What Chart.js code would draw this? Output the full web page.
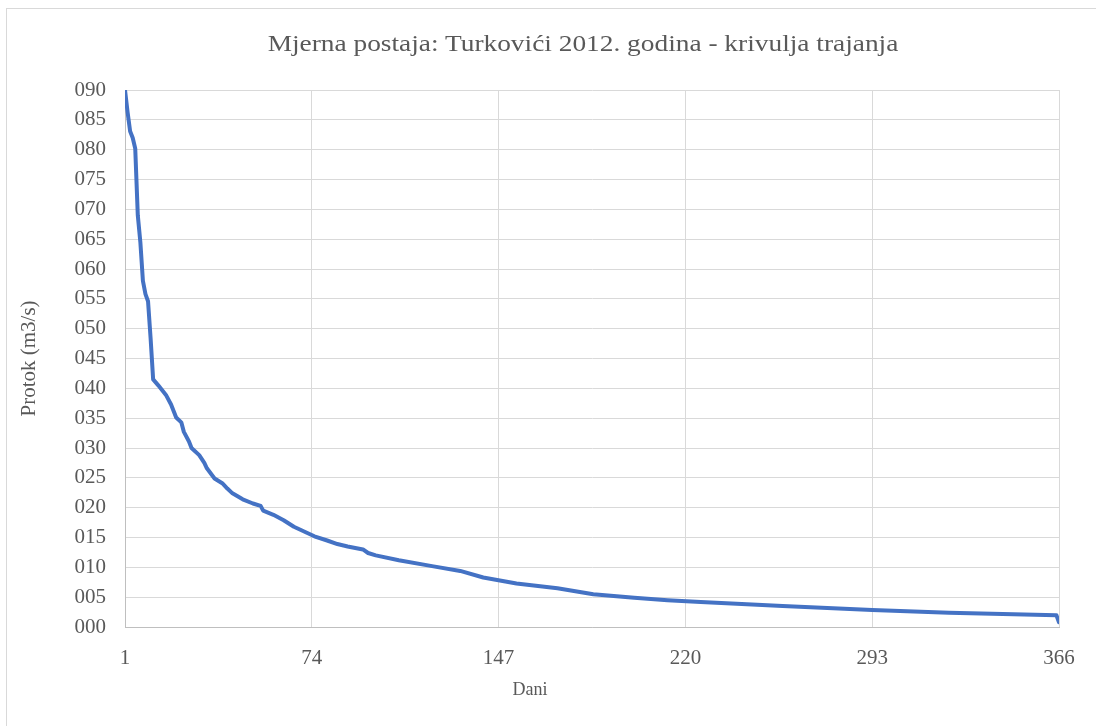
<!DOCTYPE html>
<html lang="hr">
<head>
<meta charset="utf-8">
<title>Turkovići 2012 - krivulja trajanja</title>
<script src="https://cdn.jsdelivr.net/npm/chart.js@4.4.1/dist/chart.umd.min.js"></script>
<style>
    html, body {
        margin: 0;
        padding: 0;
        background: #ffffff;
        overflow: hidden;
    }
    .chart-wrap {
        position: relative;
        width: 1096px;
        height: 726px;
        font-family: "Liberation Serif", "DejaVu Serif", serif;
        color: #595959;
    }
    .chart-frame {
        position: absolute;
        left: 6px;
        top: 8px;
        width: 1100px;
        height: 730px;
        border: 1px solid #d9d9d9;
        box-sizing: border-box;
    }
    .chart-title {
        position: absolute;
        left: 583px;
        top: 28px;
        transform: translateX(-50%) scaleX(1.14);
        font-size: 24px;
        line-height: 30px;
        white-space: nowrap;
    }
    .axis-title-x {
        position: absolute;
        left: 530px;
        top: 678px;
        transform: translateX(-50%);
        font-size: 18px;
        line-height: 22px;
    }
    .chart-canvas {
        position: absolute;
        left: 0;
        top: 0;
        width: 1096px;
        height: 726px;
    }
</style>
</head>
<body>
<div class="chart-wrap">
    <div class="chart-frame"></div>
    <div class="chart-canvas"><canvas id="durationChart"></canvas></div>
    <div class="chart-title">Mjerna postaja: Turkovići 2012. godina - krivulja trajanja</div>
    <div class="axis-title-x">Dani</div>
</div>

<script>
// Krivulja trajanja protoka - dan u godini i protok (m3/s)
const dani = [1, 2, 3, 4, 5, 6, 7, 8, 9, 10, 11, 12, 13, 14, 17, 19, 20, 21, 23, 24,
    26, 27, 30, 32, 33, 36, 39, 41, 43, 47, 51, 54, 55, 59, 63, 67, 71, 75, 80, 84,
    88, 94, 96, 99, 108, 121, 132, 141, 154, 170, 184, 200, 213, 226, 258, 293, 323, 365, 366];
const protok = [0.900, 0.863, 0.831, 0.820, 0.802, 0.690, 0.645, 0.580, 0.558, 0.546, 0.484, 0.415, 0.410, 0.405, 0.389, 0.373, 0.362, 0.351, 0.343, 0.327,
    0.311, 0.300, 0.288, 0.275, 0.266, 0.249, 0.241, 0.232, 0.224, 0.214, 0.207, 0.203, 0.195, 0.188, 0.179, 0.168, 0.160, 0.152, 0.145, 0.139,
    0.135, 0.130, 0.124, 0.120, 0.112, 0.102, 0.094, 0.083, 0.073, 0.065, 0.055, 0.049, 0.045, 0.042, 0.035, 0.0285, 0.024, 0.0196, 0.008];

// Oznake na osima
const xOznake = [1, 74, 147, 220, 293, 366];
const yMax = 0.9;
const yKorak = 0.05;

const tekstBoja = '#595959';
const mrezaBoja = '#d9d9d9';
const font = '"Liberation Serif", "DejaVu Serif", serif';

document.addEventListener('DOMContentLoaded', function() {
    initDurationChart();
});

function initDurationChart() {
    const ctx = document.getElementById('durationChart');
    if (!ctx) return;

    const points = dani.map(function(d, i) {
        return { x: d, y: protok[i] };
    });

    new Chart(ctx, {
        type: 'line',
        data: {
            datasets: [{
                label: 'Protok',
                data: points,
                borderColor: '#4472c4',
                borderWidth: 4,
                borderJoinStyle: 'round',
                borderCapStyle: 'round',
                pointRadius: 0,
                tension: 0,
                fill: false
            }]
        },
        options: {
            responsive: true,
            maintainAspectRatio: false,
            animation: false,
            layout: {
                padding: { left: 17, right: 37, top: 90, bottom: 0 }
            },
            plugins: {
                legend: { display: false },
                tooltip: { enabled: false },
                title: { display: false }
            },
            scales: {
                x: {
                    type: 'linear',
                    min: 1,
                    max: 366,
                    afterBuildTicks: function(scale) {
                        scale.ticks = xOznake.map(function(v) { return { value: v }; });
                    },
                    afterFit: function(scale) {
                        scale.height = 99;
                    },
                    ticks: {
                        color: tekstBoja,
                        font: { family: font, size: 21 },
                        padding: 19,
                        maxRotation: 0,
                        autoSkip: false
                    },
                    grid: {
                        color: mrezaBoja,
                        lineWidth: 1,
                        drawTicks: false
                    },
                    border: {
                        color: '#bfbfbf',
                        width: 1
                    }
                },
                y: {
                    min: 0,
                    max: yMax,
                    afterFit: function(scale) {
                        scale.width = 125 - 17;
                    },
                    ticks: {
                        stepSize: yKorak,
                        color: tekstBoja,
                        font: { family: font, size: 21 },
                        padding: 19,
                        callback: function(value) {
                            return String(Math.round(value * 100)).padStart(3, '0');
                        }
                    },
                    grid: {
                        color: mrezaBoja,
                        lineWidth: 1,
                        drawTicks: false
                    },
                    border: {
                        color: '#bfbfbf',
                        width: 1
                    },
                    title: {
                        display: true,
                        text: 'Protok (m3/s)',
                        color: tekstBoja,
                        font: { family: font, size: 21 },
                        padding: 0
                    }
                }
            }
        }
    });
}
</script>
</body>
</html>
